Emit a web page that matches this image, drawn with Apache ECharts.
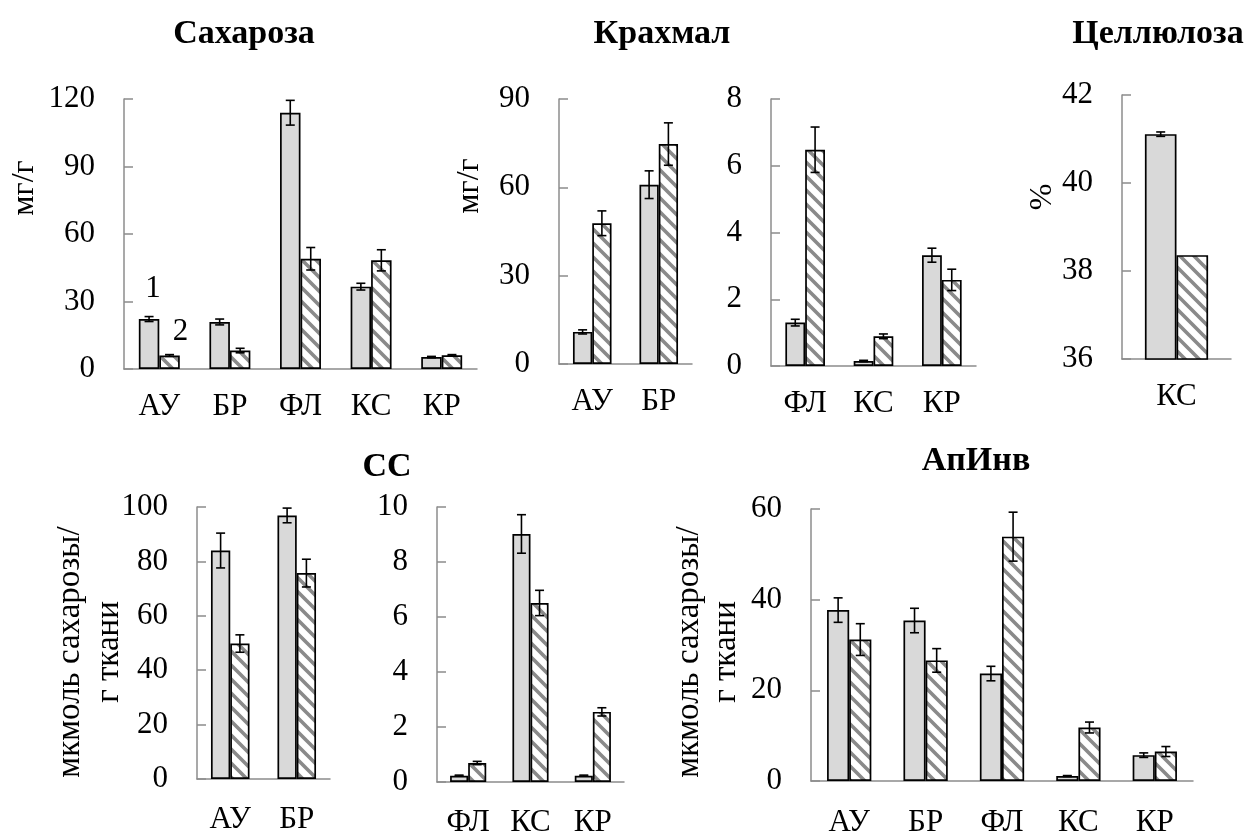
<!DOCTYPE html>
<html>
<head>
<meta charset="utf-8">
<script src="https://cdn.jsdelivr.net/npm/echarts@6/dist/echarts.min.js"></script>
<style>
  html, body { margin: 0; padding: 0; background: #fff; }
  #chart { width: 1248px; height: 838px; }
</style>
</head>
<body>
<div id="chart"></div>
<script>
// ---- categories ----
const catsFive   = ['АУ', 'БР', 'ФЛ', 'КС', 'КР'];
const catsLeaf   = ['АУ', 'БР'];
const catsStem   = ['ФЛ', 'КС', 'КР'];
const catsCell   = ['КС'];

// ---- axis ranges [min, max, step] ----
const sucroseAxis   = [0, 120, 30];
const starchAxisA   = [0, 90, 30];
const starchAxisB   = [0, 8, 2];
const celluloseAxis = [36, 42, 2];
const ssAxisA       = [0, 100, 20];
const ssAxisB       = [0, 10, 2];
const invAxis       = [0, 60, 20];

// ---- Сахароза, мг/г ----
const sucrose1    = [22.2, 20.9, 113.9, 36.6, 5.3];
const sucrose1Err = [1.1, 1.3, 5.5, 1.5, 0.3];
const sucrose2    = [6.0, 8.2, 49.0, 48.3, 6.1];
const sucrose2Err = [0.4, 1.0, 5.0, 4.7, 0.3];

// ---- Крахмал, мг/г ----
const starchA1    = [10.9, 60.9];
const starchA1Err = [0.7, 4.7];
const starchA2    = [47.8, 74.7];
const starchA2Err = [4.2, 7.2];
const starchB1    = [1.30, 0.15, 3.32];
const starchB1Err = [0.10, 0.02, 0.21];
const starchB2    = [6.48, 0.89, 2.58];
const starchB2Err = [0.68, 0.07, 0.32];

// ---- Целлюлоза, % ----
const cellulose1    = [41.11];
const cellulose1Err = [0.05];
const cellulose2    = [38.36];
const cellulose2Err = [0];

// ---- СС, мкмоль сахарозы / г ткани ----
const ssA1    = [84.0, 96.9];
const ssA1Err = [6.4, 2.7];
const ssA2    = [49.8, 75.7];
const ssA2Err = [3.2, 5.1];
const ssB1    = [0.23, 9.02, 0.23];
const ssB1Err = [0.02, 0.70, 0.02];
const ssB2    = [0.69, 6.51, 2.55];
const ssB2Err = [0.06, 0.46, 0.15];

// ---- АпИнв, мкмоль сахарозы / г ткани ----
const inv1    = [37.7, 35.4, 23.7, 1.1, 5.7];
const inv1Err = [2.7, 2.7, 1.6, 0.1, 0.5];
const inv2    = [31.2, 26.6, 53.9, 11.8, 6.5];
const inv2Err = [3.5, 2.6, 5.4, 1.2, 1.1];

// series markers drawn over the first pair of bars
const seriesMarks = ['1', '2'];

const FONT = '"Liberation Serif", "Times New Roman", serif';
const AXIS_COLOR = '#8c8c8c';
const GAP = 0.42;

// diagonal hatch for the second series
function hatch() {
  const s = 14;
  const c = document.createElement('canvas');
  c.width = c.height = s;
  const g = c.getContext('2d');
  g.fillStyle = '#fff';
  g.fillRect(0, 0, s, s);
  g.strokeStyle = '#8a8a8a';
  g.lineWidth = 3.6;
  g.beginPath();
  for (let k = -1; k <= 1; k++) {
    g.moveTo(k * s - 2, -2);
    g.lineTo(k * s + s + 2, s + 2);
  }
  g.stroke();
  return c;
}
const hatchFill = { image: hatch(), repeat: 'repeat' };

const grids = [
  { left: 124, top: 99,  width: 353, height: 270 },   // Сахароза
  { left: 559, top: 99,  width: 133, height: 265 },   // Крахмал (АУ, БР)
  { left: 771, top: 99,  width: 205, height: 267 },   // Крахмал (ФЛ, КС, КР)
  { left: 1122, top: 95, width: 109, height: 264 },   // Целлюлоза
  { left: 197, top: 507, width: 133, height: 272 },   // СС (АУ, БР)
  { left: 437, top: 507, width: 187, height: 275 },   // СС (ФЛ, КС, КР)
  { left: 811, top: 509, width: 382, height: 273 }    // АпИнв
];

function xAxis(gi, cats, margin) {
  return {
    type: 'category', gridIndex: gi, data: cats,
    axisLine: { lineStyle: { color: AXIS_COLOR, width: 1.5 } },
    axisTick: { length: 8, lineStyle: { color: AXIS_COLOR, width: 1.5 } },
    axisLabel: { color: '#000', fontFamily: FONT, fontSize: 31, margin: margin },
    splitLine: { show: false }
  };
}
function yAxis(gi, range) {
  return {
    type: 'value', gridIndex: gi, min: range[0], max: range[1], interval: range[2],
    axisLine: { show: true, lineStyle: { color: AXIS_COLOR, width: 1.5 } },
    axisTick: { show: true, inside: true, length: 9, lineStyle: { color: AXIS_COLOR, width: 1.5 } },
    axisLabel: { color: '#000', fontFamily: FONT, fontSize: 31, margin: 29 },
    splitLine: { show: false }
  };
}

function barPair(gi, v1, v2) {
  return [
    {
      type: 'bar', xAxisIndex: gi, yAxisIndex: gi, data: v1,
      barGap: '0%', barCategoryGap: (GAP * 100) + '%', animation: false,
      itemStyle: { color: '#d9d9d9', borderColor: '#000', borderWidth: 1.7 }
    },
    {
      type: 'bar', xAxisIndex: gi, yAxisIndex: gi, data: v2,
      barGap: '0%', barCategoryGap: (GAP * 100) + '%', animation: false,
      itemStyle: { color: hatchFill, borderColor: '#000', borderWidth: 1.7 }
    }
  ];
}

function errorBars(gi, vals, errs, side) {
  return {
    type: 'custom', xAxisIndex: gi, yAxisIndex: gi, z: 5, silent: true, animation: false,
    data: vals.map((v, i) => [i, v, errs[i]]),
    renderItem(params, api) {
      const i = api.value(0), v = api.value(1), e = api.value(2);
      if (!e) return;
      const band = api.size([1, 0])[0];
      const off = side * band * (1 - GAP) / 4;
      const hi = api.coord([i, v + e]);
      const lo = api.coord([i, v - e]);
      const x = hi[0] + off, cap = 4.5;
      const st = { stroke: '#000', lineWidth: 1.6 };
      return {
        type: 'group',
        children: [
          { type: 'line', shape: { x1: x, y1: hi[1], x2: x, y2: lo[1] }, style: st },
          { type: 'line', shape: { x1: x - cap, y1: hi[1], x2: x + cap, y2: hi[1] }, style: st },
          { type: 'line', shape: { x1: x - cap, y1: lo[1], x2: x + cap, y2: lo[1] }, style: st }
        ]
      };
    }
  };
}

function panel(gi, v1, e1, v2, e2) {
  return barPair(gi, v1, v2).concat([errorBars(gi, v1, e1, -1), errorBars(gi, v2, e2, 1)]);
}

// first panel carries the series numbers above the first pair of bars
const sucroseSeries = panel(0, sucrose1, sucrose1Err, sucrose2, sucrose2Err);
const markLabel = (text, dist, dx) => ({
  show: true, formatter: text, position: 'top', distance: dist, offset: [dx, 0],
  color: '#000', fontFamily: FONT, fontSize: 31
});
sucroseSeries[0].data = sucrose1.map((v, i) => i === 0 ? { value: v, label: markLabel(seriesMarks[0], 15, 4) } : v);
sucroseSeries[1].data = sucrose2.map((v, i) => i === 0 ? { value: v, label: markLabel(seriesMarks[1], 8, 11) } : v);

function txt(x, y, text, size, bold, rot) {
  return {
    type: 'text', x: x, y: y, rotation: rot || 0,
    style: {
      text: text, fill: '#000', font: (bold ? 'bold ' : '') + size + 'px ' + FONT,
      textAlign: 'center', textVerticalAlign: 'middle'
    }
  };
}
const R = Math.PI / 2;

const option = {
  backgroundColor: '#fff',
  animation: false,
  grid: grids,
  xAxis: [
    xAxis(0, catsFive, 22), xAxis(1, catsLeaf, 22), xAxis(2, catsStem, 22), xAxis(3, catsCell, 22),
    xAxis(4, catsLeaf, 25), xAxis(5, catsStem, 25), xAxis(6, catsFive, 26)
  ],
  yAxis: [
    yAxis(0, sucroseAxis), yAxis(1, starchAxisA), yAxis(2, starchAxisB), yAxis(3, celluloseAxis),
    yAxis(4, ssAxisA), yAxis(5, ssAxisB), yAxis(6, invAxis)
  ],
  series: [].concat(
    sucroseSeries,
    panel(1, starchA1, starchA1Err, starchA2, starchA2Err),
    panel(2, starchB1, starchB1Err, starchB2, starchB2Err),
    panel(3, cellulose1, cellulose1Err, cellulose2, cellulose2Err),
    panel(4, ssA1, ssA1Err, ssA2, ssA2Err),
    panel(5, ssB1, ssB1Err, ssB2, ssB2Err),
    panel(6, inv1, inv1Err, inv2, inv2Err)
  ),
  graphic: [
    txt(244, 34, 'Сахароза', 34, true),
    txt(662, 34, 'Крахмал', 34, true),
    txt(1158, 34, 'Целлюлоза', 34, true),
    txt(387, 467, 'СС', 34, true),
    txt(976, 461, 'АпИнв', 34, true),
    txt(25, 188, 'мг/г', 32, false, R),
    txt(470, 186, 'мг/г', 32, false, R),
    txt(1043, 197, '%', 32, false, R),
    txt(70, 652, 'мкмоль сахарозы/', 33, false, R),
    txt(109, 652, 'г ткани', 33, false, R),
    txt(689, 652, 'мкмоль сахарозы/', 33, false, R),
    txt(726, 652, 'г ткани', 33, false, R)
  ]
};

const chart = echarts.init(document.getElementById('chart'), null, { renderer: 'canvas' });
chart.setOption(option);
</script>
</body>
</html>
